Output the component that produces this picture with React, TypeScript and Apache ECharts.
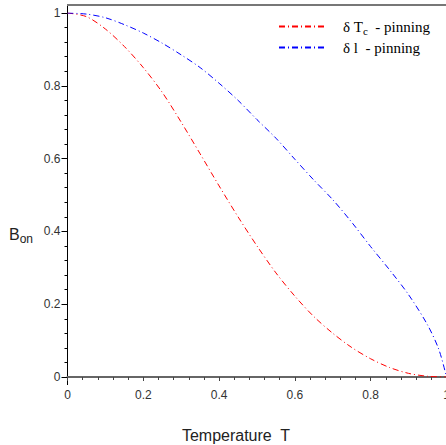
import React, { useEffect, useRef } from "react";
import * as echarts from "echarts";

const temps = [0, 0.05, 0.1, 0.15, 0.2, 0.25, 0.3, 0.35, 0.4, 0.45, 0.5, 0.55, 0.6, 0.65, 0.7, 0.75, 0.8, 0.85, 0.9, 0.95, 1.0];
const tcPinning = [1.0, 0.99, 0.956, 0.908, 0.85, 0.782, 0.7, 0.613, 0.525, 0.44, 0.36, 0.286, 0.222, 0.166, 0.12, 0.081, 0.05, 0.026, 0.01, 0.002, 0.0];
const blTemps = [0, 0.05, 0.1, 0.15, 0.2, 0.25, 0.3, 0.35, 0.4, 0.45, 0.5, 0.55, 0.6, 0.65, 0.7, 0.75, 0.8, 0.85, 0.9, 0.95, 0.98, 1.0];
const lPinning = [1.0, 0.997, 0.987, 0.968, 0.945, 0.917, 0.885, 0.85, 0.807, 0.76, 0.707, 0.656, 0.598, 0.541, 0.487, 0.425, 0.358, 0.294, 0.226, 0.143, 0.075, 0.0];
const xTicks = [0, 0.2, 0.4, 0.6, 0.8, 1];
const seriesNames = ["δ Tc - pinning", "δ l - pinning"];

const fmt = (v: number) => String(Math.round(v * 10) / 10);

export default function App() {
  const ref = useRef<HTMLDivElement>(null);
  useEffect(() => {
    const chart = echarts.init(ref.current!, null, { renderer: "svg" });
    const dash = [6, 3, 1, 3];
    chart.setOption({
      animation: false,
      grid: { left: 67.5, top: 13, width: 379, height: 364, outerBoundsMode: "none", containLabel: false },
      xAxis: {
        type: "value",
        min: xTicks[0],
        max: xTicks[xTicks.length - 1],
        interval: 0.2,
        offset: 8,
        axisLine: { show: true, lineStyle: { color: "#666", width: 2 } },
        axisTick: { show: true, length: 4, lineStyle: { color: "#444" } },
        minorTick: { show: true, splitNumber: 5, length: 3, lineStyle: { color: "#444" } },
        splitLine: { show: false },
        axisLabel: { fontSize: 12, color: "#333", margin: 4, fontFamily: "Liberation Sans", formatter: fmt, hideOverlap: false },
      },
      yAxis: {
        type: "value",
        min: 0,
        max: 1,
        interval: 0.2,
        axisLine: { show: false },
        axisTick: { show: true, length: 6, lineStyle: { color: "#000" } },
        minorTick: { show: true, splitNumber: 5, length: 3, lineStyle: { color: "#000" } },
        splitLine: { show: false },
        axisLabel: { fontSize: 12, color: "#333", margin: 7, fontFamily: "Liberation Sans", formatter: fmt },
      },
      legend: {
        orient: "vertical",
        left: 273,
        top: 14,
        itemWidth: 46,
        itemHeight: 14,
        itemGap: 4,
        data: seriesNames,
        itemStyle: { opacity: 0 },
        formatter: (name: string) =>
          name === seriesNames[0]
            ? "{a|δ T}{s|c}{a|  - pinning}"
            : "{a|δ l  - pinning}",
        textStyle: {
          fontFamily: "Liberation Serif",
          fontSize: 15,
          color: "#000",
          padding: [0, 0, 0, 13],
          rich: {
            a: { fontFamily: "Liberation Serif", fontSize: 15, color: "#000" },
            s: { fontFamily: "Liberation Serif", fontSize: 11, color: "#000", padding: [8, 0, 0, 0] },
          },
        },
      },
      graphic: [
        { type: "line", shape: { x1: 67.5, y1: 5, x2: 67.5, y2: 385 }, style: { stroke: "#000", lineWidth: 1 } },
        { type: "line", shape: { x1: 67, y1: 5, x2: 446, y2: 5 }, style: { stroke: "#777", lineWidth: 2 } },
        {
          type: "text",
          x: 236,
          y: 435,
          style: { text: "Temperature  T", fontSize: 16, fontFamily: "Liberation Sans", fill: "#222", align: "center", verticalAlign: "middle" },
        },
        {
          type: "text",
          x: 9,
          y: 234,
          style: {
            text: "{b|B}{o|on}",
            fontFamily: "Liberation Sans",
            fill: "#222",
            verticalAlign: "middle",
            rich: {
              b: { fontSize: 16, fontFamily: "Liberation Sans", fill: "#222" },
              o: { fontSize: 12, fontFamily: "Liberation Sans", fill: "#222", padding: [9, 0, 0, 0] },
            },
          },
        },
      ],
      series: [
        {
          name: seriesNames[0],
          type: "line",
          symbol: "none",
          smooth: 0.3,
          data: temps.map((t, i) => [t, tcPinning[i]]),
          lineStyle: { color: "#ff0000", width: 1, type: dash },
          itemStyle: { color: "#ff0000" },
        },
        {
          name: seriesNames[1],
          type: "line",
          symbol: "none",
          smooth: 0.3,
          data: blTemps.map((t, i) => [t, lPinning[i]]),
          lineStyle: { color: "#0000ff", width: 1, type: dash },
          itemStyle: { color: "#0000ff" },
        },
      ],
    });
    return () => chart.dispose();
  }, []);
  return <div ref={ref} style={{ position: "absolute", left: 0, top: 0, width: 446, height: 445 }} />;
}
